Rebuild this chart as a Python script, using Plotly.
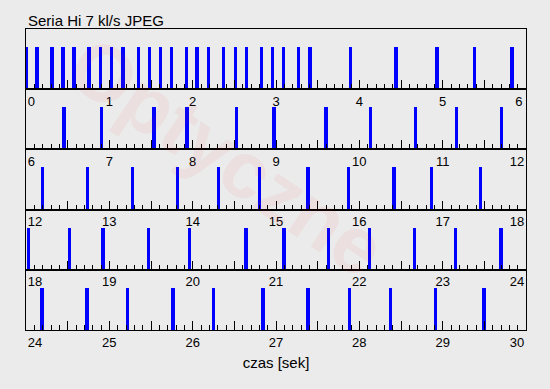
import plotly.graph_objects as go
from plotly.subplots import make_subplots

# Frame capture times [s]
frame_times = [
    0.00, 0.132, 0.312, 0.444, 0.576, 0.756, 0.892, 1.028, 1.164, 1.352,
    1.484, 1.616, 1.748, 1.928, 2.052, 2.192, 2.37, 2.512, 2.644, 2.824,
    2.956, 3.092, 3.272, 3.408, 3.896, 4.44, 4.932, 5.384, 5.832,
    6.456, 6.908, 7.536, 7.932, 8.528, 8.976, 9.60, 10.136, 10.676, 11.168, 11.708,
    12.20, 12.74, 13.28, 13.82, 14.312, 14.804, 15.384, 15.872, 16.416, 16.868, 17.456,
    18.032, 18.524, 18.924, 19.472, 19.964, 20.64, 21.096, 21.632, 22.124, 22.664,
    23.156, 23.70,
    24.192, 24.732, 25.22, 25.764, 26.252, 26.844, 27.384, 27.884, 28.376, 28.916, 29.496,
]
row_starts = [0, 6, 12, 18, 24]
row_span = 6
bar_level = 0.7
title_text = "Seria Hi 7 kl/s JPEG"
x_title = "czas [sek]"
watermark_main = "Optyczne"
watermark_tail = ".pl"

FONT = "Liberation Sans, Arial, Helvetica, sans-serif"
BG = "#ebebeb"
NB = "\u00a0"

n_rows = len(row_starts)
fig = make_subplots(rows=n_rows, cols=1, vertical_spacing=0)

for i, t0 in enumerate(row_starts):
    xs = [t for t in frame_times if t0 <= t < t0 + row_span]
    fig.add_trace(
        go.Bar(
            x=xs, y=[bar_level] * len(xs), width=0.042,
            marker=dict(color="#0000ff", line_width=0),
            cliponaxis=False, showlegend=False, hoverinfo="skip",
        ),
        row=i + 1, col=1,
    )
    tickvals = [t0 + k * 0.5 for k in range(2 * row_span + 1)]
    ticktext = []
    for k, v in enumerate(tickvals):
        if k % 2:
            ticktext.append("")
            continue
        s = str(int(round(v)))
        if k == 0:
            s = NB * (3 if len(s) == 1 else 5) + s
        elif k == len(tickvals) - 1:
            s = s + NB * (4 if len(s) == 1 else 5)
        ticktext.append(s)
    fig.update_xaxes(
        range=[t0, t0 + row_span],
        tickmode="array", tickvals=tickvals, ticktext=ticktext,
        ticks="inside", ticklen=9, tickwidth=1, tickcolor="black",
        minor=dict(ticks="inside", ticklen=5, tick0=t0, dtick=0.1,
                   tickcolor="black", tickwidth=1, showgrid=False),
        showline=True, linecolor="black", linewidth=1, mirror=True,
        showgrid=False, zeroline=False,
        tickfont=dict(family=FONT, size=13, color="black"),
        row=i + 1, col=1,
    )
    fig.update_yaxes(
        range=[0, 1], showticklabels=False, ticks="",
        showline=True, linecolor="black", linewidth=1, mirror=True,
        showgrid=False, zeroline=False,
        row=i + 1, col=1,
    )

fig.update_xaxes(
    title=dict(text=x_title, font=dict(family=FONT, size=15, color="black"), standoff=8),
    row=n_rows, col=1,
)

fig.add_annotation(
    xref="paper", yref="paper", x=0.478, y=0.49,
    text=f"<b>{watermark_main}<span style='color:rgba(0,0,0,0.03)'>{watermark_tail}</span></b>",
    textangle=34, showarrow=False,
    font=dict(family=FONT, size=80, color="rgba(230,40,40,0.06)"),
)

fig.update_layout(
    width=550, height=389,
    margin=dict(l=26, r=24, t=29, b=59, autoexpand=False),
    paper_bgcolor=BG, plot_bgcolor=BG,
    bargap=0,
    title=dict(text=title_text, x=0.004, xref="paper", xanchor="left",
               y=1 - 20.5 / 389, yref="container", yanchor="middle",
               font=dict(family=FONT, size=15, color="black")),
    font=dict(family=FONT),
)

fig.write_html(
    "out.html",
    config={"displayModeBar": False},
    post_script=(
        "document.body.style.margin='0';"
        "document.body.style.padding='0';"
        "document.body.style.background='" + BG + "';"
        "document.body.style.overflow='hidden';"
    ),
)
